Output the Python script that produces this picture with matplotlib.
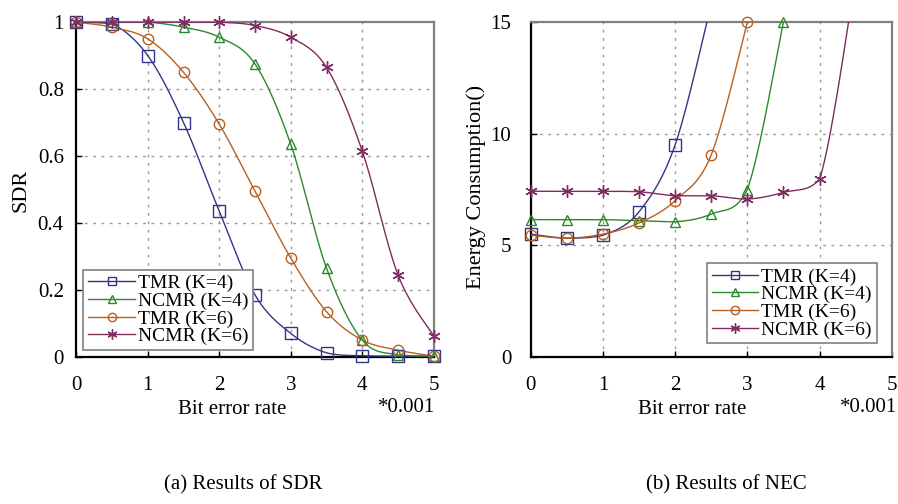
import numpy as np
import matplotlib
matplotlib.use('Agg')
import matplotlib.pyplot as plt
from matplotlib.lines import Line2D

plt.rcParams['font.family'] = ['Liberation Serif', 'DejaVu Serif']

# ------------------------------------------------------------
# 数据
# ------------------------------------------------------------
ber = [0, 0.5, 1, 1.5, 2, 2.5, 3, 3.5, 4, 4.5, 5]

sdr_tmr4 = [1, 0.995, 0.9, 0.7, 0.435, 0.185, 0.07, 0.012, 0.003, 0.002, 0.002]
sdr_ncmr4 = [1, 1, 1, 0.985, 0.955, 0.875, 0.635, 0.265, 0.05, 0.006, 0.002]
sdr_tmr6 = [1, 0.985, 0.95, 0.85, 0.695, 0.495, 0.295, 0.135, 0.05, 0.02, 0.002]
sdr_ncmr6 = [1, 1, 1, 1, 1, 0.99, 0.955, 0.865, 0.615, 0.245, 0.062]

nec_x_tmr4 = [0, 0.5, 1, 1.5, 2, 2.5]
nec_tmr4 = [5.5, 5.32, 5.45, 6.5, 9.5, 15.8]
nec_x_ncmr4 = [0, 0.5, 1, 1.5, 2, 2.5, 3, 3.5]
nec_ncmr4 = [6.15, 6.15, 6.15, 6.1, 6.05, 6.4, 7.5, 15]
nec_x_tmr6 = [0, 0.5, 1, 1.5, 2, 2.5, 3]
nec_tmr6 = [5.45, 5.32, 5.5, 6.0, 7.0, 9.05, 15]
nec_x_ncmr6 = [0, 0.5, 1, 1.5, 2, 2.5, 3, 3.5, 4, 4.5]
nec_ncmr6 = [7.42, 7.42, 7.42, 7.4, 7.22, 7.22, 7.07, 7.37, 7.95, 17]

labels = ['TMR (K=4)', 'NCMR (K=4)', 'TMR (K=6)', 'NCMR (K=6)']
colors = ['#343488', '#2a8a2a', '#b8601e', '#7e2c62']
markers = ['s', '^', 'o', (6, 2, 0)]
msizes = [8, 7, 7.5, 9]


def smooth(x, y, n=30):
    """Excel 风格平滑线，控制点限制在区间内以免过冲"""
    x = np.asarray(x, float)
    y = np.asarray(y, float)
    px = np.concatenate([[x[0]], x, [x[-1]]])
    py = np.concatenate([[y[0]], y, [y[-1]]])
    xs, ys = [], []
    t = np.linspace(0, 1, n)
    for i in range(1, len(px) - 2):
        for k, (p, out) in enumerate(((px, xs), (py, ys))):
            p0, p1, p2, p3 = p[i - 1], p[i], p[i + 1], p[i + 2]
            c1 = p1 + (p2 - p0) / 6
            c2 = p2 - (p3 - p1) / 6
            if k == 1:
                lo, hi = min(p1, p2), max(p1, p2)
                c1 = np.clip(c1, lo, hi)
                c2 = np.clip(c2, lo, hi)
            out.append((1 - t) ** 3 * p1 + 3 * (1 - t) ** 2 * t * c1
                       + 3 * (1 - t) * t ** 2 * c2 + t ** 3 * p2)
    return np.concatenate(xs), np.concatenate(ys)


def draw(ax, x, y, i, ymax):
    sx, sy = smooth(x, y)
    ax.plot(sx, sy, color=colors[i], lw=1.0, zorder=3)
    x = np.asarray(x)
    y = np.asarray(y)
    keep = y <= ymax + 1e-9
    ax.plot(x[keep], y[keep], ls='none', marker=markers[i], ms=msizes[i],
            mfc='none', mec=colors[i], mew=1.0, clip_on=False, zorder=4)


def style(ax, ymax, yticks, ylabels, ypad):
    ax.set_xlim(0, 5)
    ax.set_ylim(0, ymax)
    ax.set_xticks(range(6))
    ax.set_yticks(yticks)
    ax.set_yticklabels(ylabels)
    ax.tick_params(direction='in', length=4, width=1, labelsize=15)
    ax.tick_params(axis='x', pad=14)
    ax.tick_params(axis='y', pad=ypad)
    for s in ('left', 'bottom'):
        ax.spines[s].set_color('black')
        ax.spines[s].set_linewidth(1.6)
    for s in ('top', 'right'):
        ax.spines[s].set_color('#808080')
        ax.spines[s].set_linewidth(1.6)
    for v in range(1, 5):
        ax.axvline(v, color='#999999', ls=(0, (2, 4)), lw=1.0, zorder=1)
    for v in yticks[1:-1]:
        ax.axhline(v, color='#999999', ls=(0, (2, 4)), lw=1.0, zorder=1)
    handles = [Line2D([], [], color=colors[i], lw=1.0, marker=markers[i],
                      ms=msizes[i] * 0.8, mfc='none', mec=colors[i])
               for i in range(4)]
    return handles


def add_legend(ax, h, loc, anchor):
    leg = ax.legend(h, labels, loc=loc, bbox_to_anchor=anchor,
                    fontsize=14, handlelength=2.4, handletextpad=0.15,
                    borderpad=0.25, labelspacing=0.0, borderaxespad=0,
                    fancybox=False, framealpha=1, edgecolor='#808080')
    leg.get_frame().set_linewidth(1.2)


fig = plt.figure(figsize=(8.98, 5.04), dpi=100)

# (a) SDR
ax1 = fig.add_axes([0.085, 0.292, 0.398, 0.664])
for i, yv in enumerate([sdr_tmr4, sdr_ncmr4, sdr_tmr6, sdr_ncmr6]):
    draw(ax1, ber, yv, i, 1.0)
h = style(ax1, 1.0, [0, 0.2, 0.4, 0.6, 0.8, 1.0],
          ['0', '0.2', '0.4', '0.6', '0.8', '1'], 9)
fig.text(21 / 898, 1 - 190 / 504, 'SDR', rotation=90, ha='center',
         va='center', fontsize=16)
add_legend(ax1, h, 'lower left', (0.02, 0.02))

# (b) NEC
ax2 = fig.add_axes([0.591, 0.292, 0.402, 0.664])
nec_data = [(nec_x_tmr4, nec_tmr4), (nec_x_ncmr4, nec_ncmr4),
            (nec_x_tmr6, nec_tmr6), (nec_x_ncmr6, nec_ncmr6)]
for i, (xv, yv) in enumerate(nec_data):
    draw(ax2, xv, yv, i, 15)
h = style(ax2, 15, [0, 5, 10, 15], ['0', '5', '10', '15'], 14)
fig.text(476 / 898, 1 - 187 / 504, 'Energy Consumption()', rotation=90,
         ha='center', va='center', fontsize=16)
add_legend(ax2, h, 'lower right', (0.958, 0.04))

# 坐标轴文字
for cx, sx in ((232, 435), (692, 897)):
    fig.text(cx / 898, 1 - 409 / 504, 'Bit error rate', ha='center',
             va='center', fontsize=15)
    fig.text(sx / 898, 1 - 407 / 504, '*0.001', ha='right',
             va='center', fontsize=15)

fig.text(243 / 898, 1 - 485 / 504, '(a) Results of SDR', ha='center',
         va='center', fontsize=15)
fig.text(726 / 898, 1 - 485 / 504, '(b) Results of NEC', ha='center',
         va='center', fontsize=15)

fig.savefig('out.png', dpi=100)
